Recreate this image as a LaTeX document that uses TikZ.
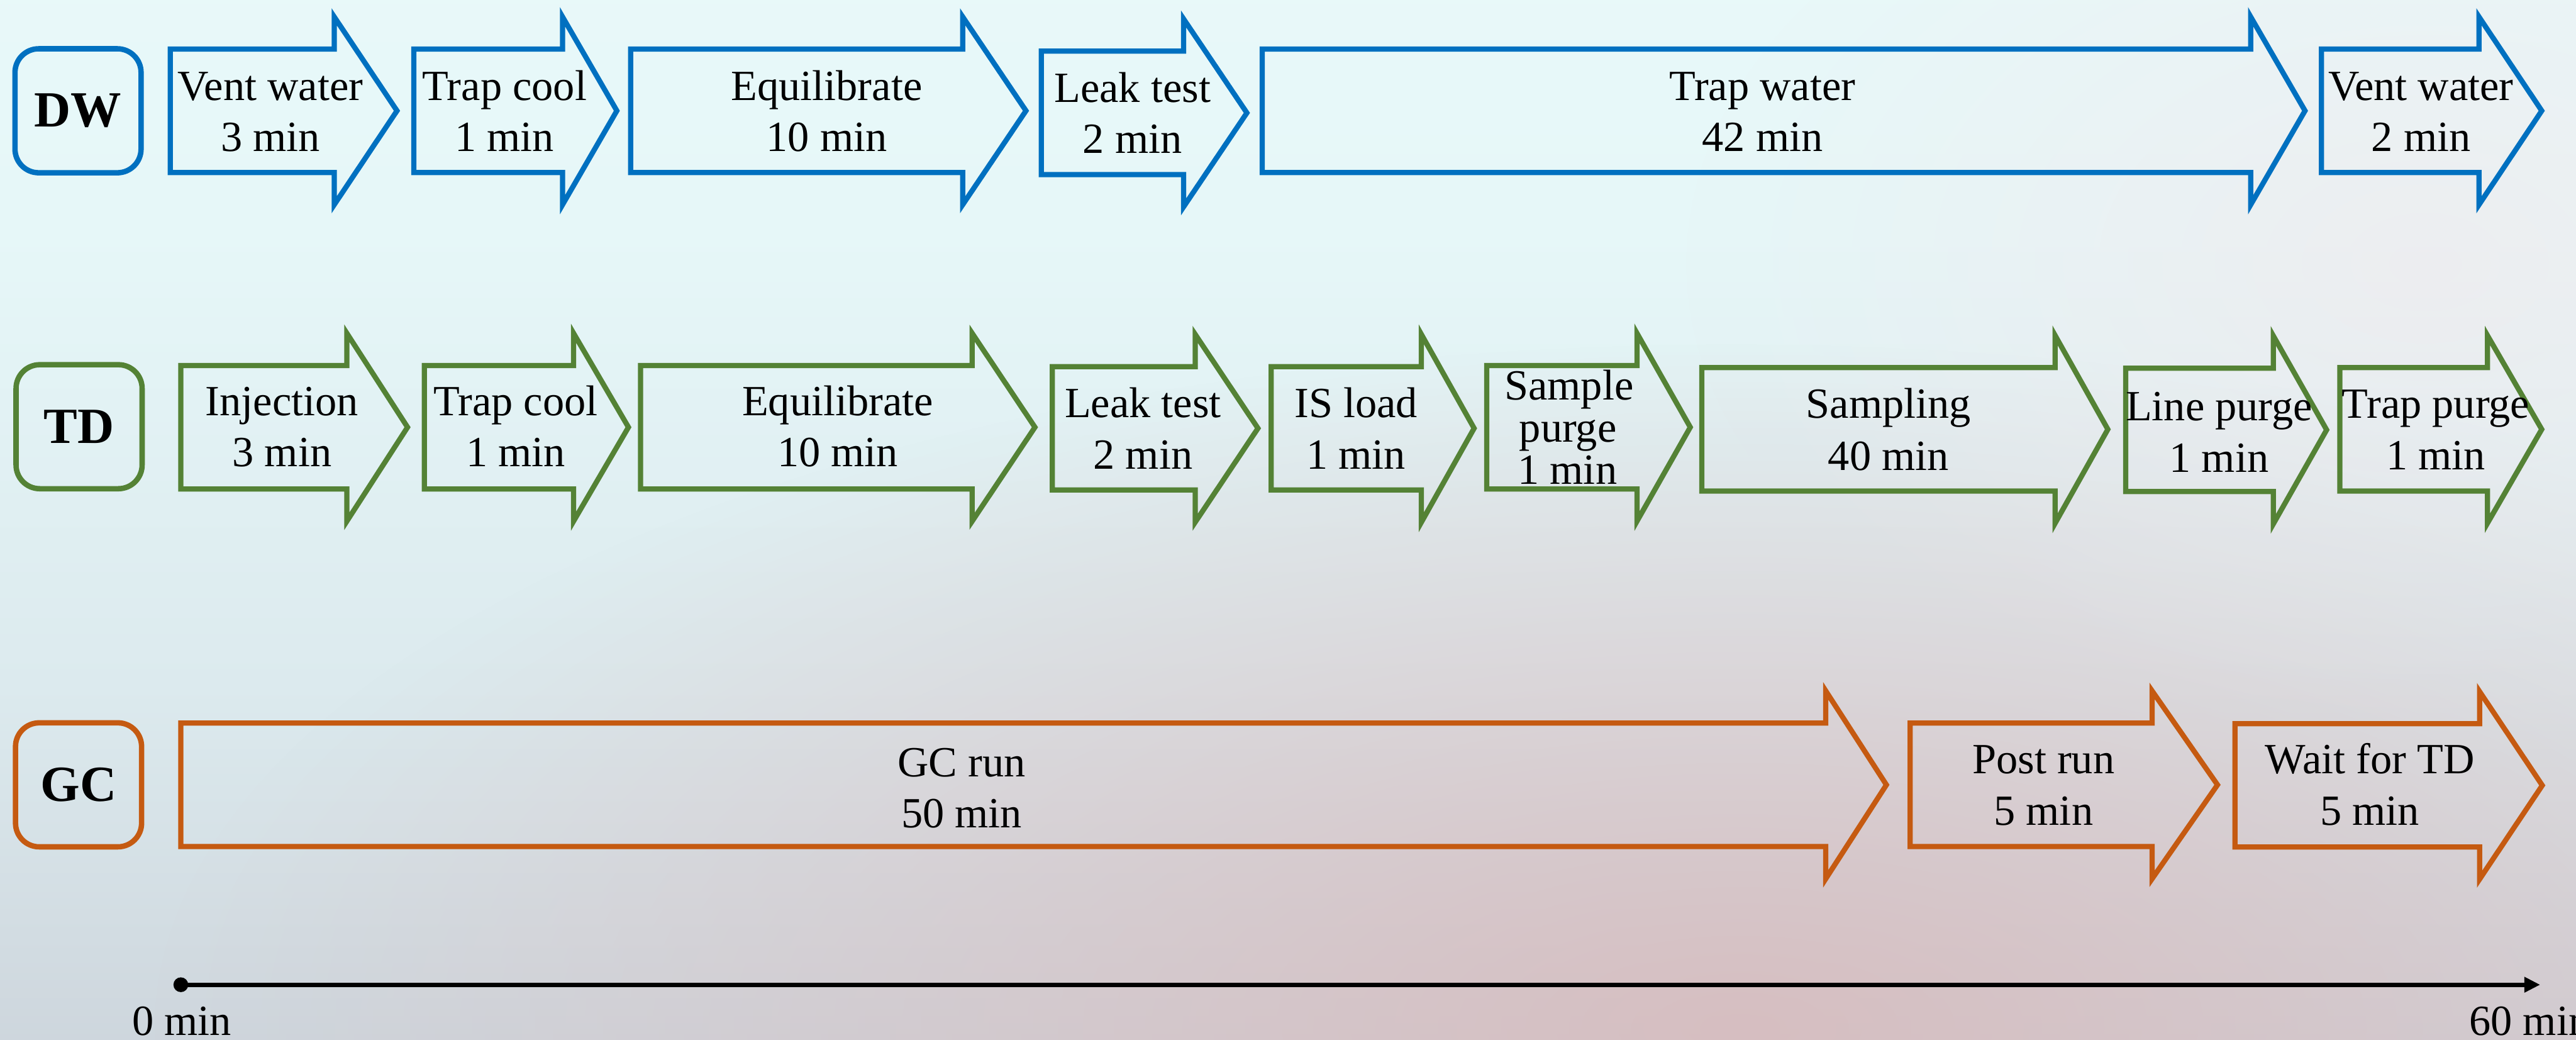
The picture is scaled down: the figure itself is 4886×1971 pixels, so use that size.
\documentclass[tikz,border=0pt]{standalone}
\usepackage{fontspec}
\setmainfont{Liberation Serif}
\usetikzlibrary{arrows.meta,fadings}
\definecolor{dwblue}{HTML}{0070C0}
\definecolor{tdgreen}{HTML}{548235}
\definecolor{gcorange}{HTML}{C55A11}
\definecolor{bgA}{HTML}{ECFCFC}
\definecolor{bgB}{HTML}{E6F7F8}
\definecolor{bgC}{HTML}{DCEAEE}
\definecolor{bgD}{HTML}{CDD5DC}
\definecolor{bgE}{HTML}{B9B6C3}
\definecolor{glowpink}{HTML}{D8BABC}
\definecolor{glowsoft}{HTML}{F2E8EC}
\pgfdeclareverticalshading{bgshade}{100bp}{color(0bp)=(bgE); color(24bp)=(bgD); color(42bp)=(bgC); color(64bp)=(bgB); color(100bp)=(bgA)}
\tikzfading[name=glowfade, inner color=transparent!0, outer color=transparent!100]
\tikzset{
  arrowshape/.style={line width=2.8pt, line join=miter},
  steptext/.style={anchor=base, inner sep=0pt, font=\fontsize{23.2}{27.6}\selectfont},
  rowlabel/.style={draw=#1, line width=2.9pt, rounded corners=0.45cm, minimum width=2.39cm,
    minimum height=2.35cm, inner sep=0pt, font=\fontsize{27.3}{32}\selectfont\bfseries},
  timeaxis/.style={line width=2.3pt, -{Triangle[length=0.3cm,width=0.28cm]}},
}
% #1 colour, #2 left, #3 neck, #4 tip, #5 centre y
\newcommand\steparrow[5]{%
  \draw[arrowshape,#1] (#2,#5-117) -- (#3,#5-117) -- (#3,#5-178) -- (#4,#5)
    -- (#3,#5+178) -- (#3,#5+117) -- (#2,#5+117) -- cycle;}
% #1 name, #2 x, #3 baseline 1, #4 baseline 2, #5 text 1, #6 text 2
\newcommand\twolines[6]{%
  \node[steptext] (#1a) at (#2,#3) {#5};
  \node[steptext] (#1b) at (#2,#4) {#6};}
\begin{document}
\begin{tikzpicture}[x=0.01cm, y=-0.01cm]
\useasboundingbox (0,0) rectangle (4886,1971);
% background
\shade[shading=bgshade] (0,0) rectangle (4886,1971);
\fill[glowpink, path fading=glowfade, fill opacity=0.85] (3300,1950) ellipse [x radius=30cm, y radius=13cm];
\fill[glowsoft, path fading=glowfade, fill opacity=0.6] (4600,500) ellipse [x radius=14cm, y radius=9cm];

% row labels
\node[rowlabel=dwblue] (DW) at (148,210) {DW};
\node[rowlabel=tdgreen] (TD) at (150,809) {TD};
\node[rowlabel=gcorange] (GC) at (149,1488) {GC};

% DW row
\steparrow{dwblue}{323}{634}{753}{210}
\steparrow{dwblue}{785}{1067}{1170}{210}
\steparrow{dwblue}{1196}{1826}{1946}{210}
\steparrow{dwblue}{1975}{2245}{2365}{214}
\steparrow{dwblue}{2394}{4269}{4372}{210}
\steparrow{dwblue}{4403}{4702}{4821}{210}
\twolines{dwa}{513}{190}{287}{Vent water}{3 min}
\twolines{dwb}{957}{190}{287}{Trap cool}{1 min}
\twolines{dwc}{1568}{190}{287}{Equilibrate}{10 min}
\twolines{dwd}{2148}{194}{291}{Leak test}{2 min}
\twolines{dwe}{3343}{190}{287}{Trap water}{42 min}
\twolines{dwf}{4592}{190}{287}{Vent water}{2 min}

% TD row
\steparrow{tdgreen}{343}{658}{773}{810}
\steparrow{tdgreen}{805}{1088}{1192}{810}
\steparrow{tdgreen}{1215}{1844}{1963}{810}
\steparrow{tdgreen}{1996}{2267}{2386}{812}
\steparrow{tdgreen}{2411}{2696}{2796}{812}
\steparrow{tdgreen}{2820}{3105}{3206}{810}
\steparrow{tdgreen}{3228}{3898}{3998}{814}
\steparrow{tdgreen}{4032}{4312}{4413}{815}
\steparrow{tdgreen}{4438}{4718}{4821}{814}
\twolines{tda}{535}{788}{885}{Injection}{3 min}
\twolines{tdb}{978}{788}{885}{Trap cool}{1 min}
\twolines{tdc}{1589}{788}{885}{Equilibrate}{10 min}
\twolines{tdd}{2168}{792}{889}{Leak test}{2 min}
\twolines{tde}{2572}{792}{889}{IS load}{1 min}
\node[steptext] (tdfa) at (2976,758) {Sample};
\node[steptext] (tdfb) at (2974,838) {purge};
\node[steptext] (tdfc) at (2973,918) {1 min};
\twolines{tdg}{3582}{793}{892}{Sampling}{40 min}
\twolines{tdh}{4209}{797}{895}{Line purge}{1 min}
\twolines{tdi}{4620}{793}{890}{Trap purge}{1 min}

% GC row
\steparrow{gcorange}{343}{3463}{3578}{1488}
\steparrow{gcorange}{3623}{4082}{4206}{1488}
\steparrow{gcorange}{4239}{4703}{4822}{1489}
\twolines{gca}{1824}{1472}{1569}{GC run}{50 min}
\twolines{gcb}{3876}{1467}{1564}{Post run}{5 min}
\twolines{gcc}{4495}{1467}{1564}{Wait for TD}{5 min}

% time axis
\coordinate (t0) at (343,1867);
\coordinate (t60) at (4818,1867);
\draw[timeaxis] (t0) -- (t60);
\fill (t0) circle [radius=0.14cm];
\node[steptext] (l0) at (345,1963) {0 min};
\node[steptext, anchor=base west] (l60) at (4683,1963) {60 min};
\end{tikzpicture}
\end{document}
